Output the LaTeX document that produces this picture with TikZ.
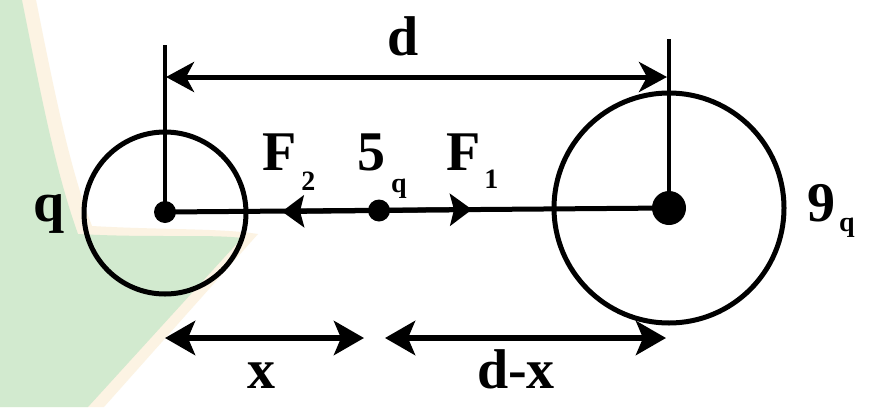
\documentclass[tikz,border=0pt]{standalone}
\usepackage{fontspec}
\setmainfont{Liberation Serif}
\usetikzlibrary{arrows.meta}
\newcommand{\subtx}[2]{\raisebox{-#1pt}{\fontsize{28}{28}\selectfont #2}}
\definecolor{greenbg}{HTML}{D2EACF}
\definecolor{bandbg}{HTML}{FCF3E3}
\begin{document}
\begin{tikzpicture}[x=1pt,y=-1pt,
  lbl/.style={inner sep=0pt, font=\bfseries\fontsize{56}{60}\selectfont},
  ring/.style={draw, circle, line width=5pt, inner sep=0pt},
  dot/.style={fill, circle, inner sep=0pt},
  wire/.style={line width=5pt},
  dimline/.style={line width=5pt, {Stealth[length=28pt,width=30pt,inset=8pt]}-{Stealth[length=28pt,width=30pt,inset=8pt]}},
  force/.style={line width=5pt, -{Stealth[length=22pt,width=32pt,inset=4pt]}},
  spanarrow/.style={line width=6.5pt, {Stealth[length=30pt,width=34pt,inset=7pt]}-{Stealth[length=30pt,width=34pt,inset=7pt]}}]
\useasboundingbox (0,0) rectangle (874,407);
\fill[white] (0,0) rectangle (874,407);
% background watermark tint
\fill[bandbg] (0,0) -- (36,0) .. controls (54,90) and (70,170) .. (92,226)
  .. controls (160,230) and (220,228) .. (258,234) -- (104,407) -- (0,407) -- cycle;
\fill[greenbg] (0,0) -- (22,0) .. controls (40,90) and (55,170) .. (78,234)
  .. controls (150,238) and (210,234) .. (242,238) -- (88,407) -- (0,407) -- cycle;

% charges
\node[ring, minimum size=162pt] (Lring) at (165,213) {};
\node[ring, minimum size=230pt] (Rring) at (669,208) {};
\node[dot, minimum size=22pt] (Ld) at (165,212) {};
\node[dot, minimum size=22pt] (Md) at (379,210.5) {};
\node[dot, minimum size=34pt] (Rd) at (669,208) {};

% connecting line
\draw[wire] (Ld.center) -- (Rd.center);
\coordinate (f2tip) at (282,211.5);
\coordinate (f1tip) at (472,209.5);
\draw[force] (Md.center) -- (f2tip);
\draw[force] (Md.center) -- (f1tip);

% vertical ticks
\coordinate (Ltop) at (165,45);
\coordinate (Rtop) at (669,39);
\draw[line width=4.5pt] (Ltop) -- (Ld.center);
\draw[line width=4.5pt] (Rtop) -- (Rd.center);

% distance d
\coordinate (da) at (166,77);
\coordinate (db) at (667,77);
\draw[dimline] (da) -- (db);

% bottom spans
\coordinate (xa) at (165,338);
\coordinate (xb) at (364,338);
\coordinate (ya) at (385,338);
\coordinate (yb) at (666,338);
\draw[spanarrow] (xa) -- (xb);
\draw[spanarrow] (ya) -- (yb);

% labels
\node[lbl, anchor=base] (dlab) at (403,55) {d};
\node[lbl, anchor=base] (qlab) at (49,221) {q};
\node[lbl, anchor=base west] (F2lab) at (262,170) {F\hspace{5pt}\subtx{20}{2}};
\node[lbl, anchor=base west] (5lab) at (357,170) {5\hspace{6pt}\subtx{22}{q}};
\node[lbl, anchor=base west] (F1lab) at (446,170) {F\hspace{4pt}\subtx{18}{1}};
\node[lbl, anchor=base west] (9lab) at (807,221) {9\hspace{4pt}\subtx{10}{q}};
\node[lbl, anchor=base] (xlab) at (261,388) {x};
\node[lbl, anchor=base] (dxlab) at (516,388) {d-x};
\end{tikzpicture}
\end{document}
